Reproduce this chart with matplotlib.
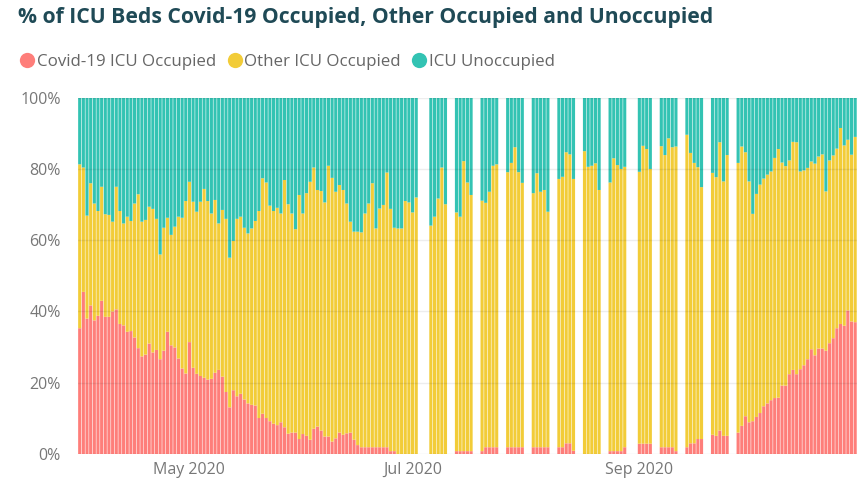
import numpy as np
import pandas as pd
import matplotlib
matplotlib.use("Agg")
import matplotlib.pyplot as plt
import matplotlib.dates as mdates
from matplotlib.ticker import FixedLocator, FuncFormatter
from matplotlib.lines import Line2D

plt.rcParams["font.family"] = ["Open Sans", "DejaVu Sans"]

title = "% of ICU Beds Covid-19 Occupied, Other Occupied and Unoccupied"
series_names = ["Covid-19 ICU Occupied", "Other ICU Occupied", "ICU Unoccupied"]
series_colors = ["#FE7E7A", "#F2CC38", "#33C3B3"]

# Reporting days: daily through early July, weekdays only over the summer,
# then daily again from the end of September
report_spans = [
    ("2020-04-01", "2020-07-02"),
    ("2020-07-06", "2020-07-10"),
    ("2020-07-13", "2020-07-17"),
    ("2020-07-20", "2020-07-24"),
    ("2020-07-27", "2020-07-31"),
    ("2020-08-03", "2020-08-07"),
    ("2020-08-10", "2020-08-14"),
    ("2020-08-17", "2020-08-21"),
    ("2020-08-24", "2020-08-28"),
    ("2020-09-01", "2020-09-04"),
    ("2020-09-07", "2020-09-11"),
    ("2020-09-14", "2020-09-18"),
    ("2020-09-21", "2020-09-25"),
    ("2020-09-28", "2020-10-30"),
]

# Share of ICU beds occupied by Covid-19 patients (%)
covid_pct = [
    # Apr 1 - Jul 2
    35.3, 45.5, 38.0, 41.7, 37.5, 38.8, 43.0, 38.5, 38.5, 40.0,
    40.6, 36.5, 36.1, 34.3, 34.5, 32.7, 29.7, 27.4, 27.9, 31.0,
    28.5, 29.2, 26.6, 29.0, 34.3, 30.5, 29.9, 26.8, 24.0, 22.6,
    31.4, 24.2, 22.5, 21.9, 21.4, 20.9, 21.1, 22.8, 23.6, 21.7,
    17.4, 13.1, 17.9, 16.2, 16.9, 15.3, 14.2, 13.8, 13.6, 10.1,
    11.3, 10.1, 9.2, 8.5, 8.1, 8.9, 7.5, 5.7, 6.0, 6.0,
    4.2, 5.6, 5.1, 4.0, 7.1, 7.7, 6.6, 4.9, 4.9, 3.5,
    4.4, 6.0, 5.4, 5.8, 6.0, 4.0, 2.5, 1.9, 1.9, 1.9,
    1.9, 1.9, 1.9, 1.9, 1.9, 0.8, 0.8, 0.0, 0.0, 0.0,
    0.0, 0.0, 0.0,
    # weekday reports, Jul 6 - Sep 25
    0.0, 0.0, 0.0, 0.0, 0.0,
    0.8, 0.8, 0.8, 0.8, 0.8,
    0.8, 1.9, 1.9, 1.9, 1.9,
    1.9, 1.9, 1.9, 1.9, 1.9,
    1.9, 1.9, 1.9, 1.9, 1.9,
    1.9, 1.9, 3.0, 3.0, 0.9,
    0.0, 0.0, 0.0, 0.0, 0.0,
    0.8, 0.8, 0.8, 0.8, 1.9,
    2.9, 2.9, 2.9, 2.9,
    1.9, 1.9, 1.9, 1.9, 0.8,
    1.9, 3.0, 3.0, 4.2, 4.2,
    5.4, 5.1, 6.6, 5.1, 5.1,
    # Sep 28 - Oct 30
    6.0, 7.9, 10.6, 8.9, 9.2, 10.4, 11.5, 13.4, 14.2, 15.1,
    15.7, 15.8, 19.2, 19.2, 22.4, 23.6, 22.4, 23.8, 24.9, 26.6,
    29.4, 27.7, 29.6, 29.6, 29.0, 31.1, 32.5, 35.3, 36.5, 36.0,
    40.3, 37.2, 37.0,
]

# Share of ICU beds occupied for any reason (%)
occupied_pct = [
    # Apr 1 - Jul 2
    81.3, 80.4, 66.9, 76.0, 70.3, 68.2, 75.0, 67.3, 67.1, 65.2,
    75.0, 68.2, 64.7, 66.6, 65.4, 70.3, 72.9, 65.2, 65.7, 69.4,
    68.8, 66.0, 56.0, 63.5, 66.3, 61.5, 63.8, 66.6, 66.3, 71.0,
    76.4, 70.8, 68.0, 70.8, 74.4, 71.0, 67.5, 71.3, 64.7, 68.5,
    66.0, 55.1, 59.8, 66.0, 66.6, 63.5, 61.9, 63.3, 65.4, 68.2,
    77.4, 76.2, 69.7, 68.2, 69.1, 67.5, 76.9, 70.1, 67.5, 63.1,
    72.7, 67.5, 73.2, 76.4, 80.4, 74.1, 73.8, 70.6, 80.9, 77.5,
    73.6, 75.5, 74.1, 70.3, 65.2, 62.4, 62.4, 62.2, 67.5, 70.3,
    76.0, 63.3, 68.9, 69.9, 79.0, 68.8, 63.5, 63.3, 63.3, 71.0,
    70.6, 67.8, 72.0,
    # weekday reports, Jul 6 - Sep 25
    64.1, 66.6, 71.7, 80.4, 70.1,
    67.8, 66.6, 82.2, 76.2, 72.7,
    71.1, 70.5, 73.6, 80.9, 81.3,
    79.1, 81.7, 86.1, 79.1, 76.1,
    73.2, 78.8, 73.6, 74.1, 68.0,
    77.2, 77.8, 84.7, 84.1, 77.2,
    85.0, 80.6, 80.9, 81.6, 74.1,
    76.2, 83.0, 81.1, 80.0, 80.6,
    79.2, 86.5, 85.6, 80.0,
    86.4, 83.9, 88.6, 86.1, 86.3,
    89.6, 84.5, 81.7, 80.5, 74.9,
    78.9, 77.7, 87.5, 76.5, 83.9,
    # Sep 28 - Oct 30
    81.7, 86.3, 84.7, 76.5, 67.4, 73.0, 75.6, 77.3, 78.4, 79.3,
    83.1, 85.6, 81.8, 80.8, 82.4, 87.6, 87.5, 79.3, 79.6, 80.3,
    82.1, 81.5, 83.5, 84.1, 73.7, 82.4, 83.8, 85.7, 91.5, 86.6,
    88.2, 84.0, 89.0,
]

x_tick_dates = ["2020-05-01", "2020-07-01", "2020-09-01"]
y_ticks = [0, 20, 40, 60, 80, 100]

# ---------------------------------------------------------------- data prep
dates = pd.DatetimeIndex(np.concatenate(
    [pd.date_range(a, b, freq="D").values for a, b in report_spans]))
covid = np.array(covid_pct)
occupied = np.array(occupied_pct)
assert len(dates) == len(covid) == len(occupied)
other = occupied - covid
unoccupied = 100.0 - occupied
xd = mdates.date2num(dates)

# ---------------------------------------------------------------- figure
W, H = 857, 482
fig = plt.figure(figsize=(W / 100, H / 100), dpi=100)
fig.patch.set_facecolor("white")

ax_left, ax_right = 77.5, 857.0
ax_top, ax_bottom = 97.7, 454.0
ax = fig.add_axes([ax_left / W, 1 - ax_bottom / H,
                   (ax_right - ax_left) / W, (ax_bottom - ax_top) / H])

bw = 0.85
bar_kw = dict(width=bw, linewidth=0, snap=False)
ax.bar(xd, covid, color=series_colors[0], **bar_kw)
ax.bar(xd, other, bottom=covid, color=series_colors[1], **bar_kw)
ax.bar(xd, unoccupied, bottom=occupied, color=series_colors[2], **bar_kw)

x0 = mdates.date2num(pd.Timestamp("2020-04-01"))
ax.set_xlim(x0 - 0.6, x0 + 212.5)
ax.set_ylim(0, 100)

for s in ax.spines.values():
    s.set_visible(False)

ax.yaxis.set_major_locator(FixedLocator(y_ticks))
ax.yaxis.set_major_formatter(FuncFormatter(lambda v, p: f"{v:.0f}%"))
ax.xaxis.set_major_locator(FixedLocator(mdates.date2num(pd.to_datetime(x_tick_dates))))
ax.xaxis.set_major_formatter(mdates.DateFormatter("%b %Y"))
ax.tick_params(axis="both", length=0, labelsize=11.5, labelcolor="#777777")
ax.tick_params(axis="y", pad=12)
ax.tick_params(axis="x", pad=6)

ax.set_axisbelow(False)
ax.yaxis.grid(True, color="black", alpha=0.07, linewidth=1)
ax.xaxis.grid(False)

# title
fig.text(18 / W, 1 - 17 / H, title, ha="left", va="center",
         fontsize=15.2, fontweight="bold", color="#1F4A56")

# legend
handles = [Line2D([], [], marker="o", linestyle="none", markersize=11,
                  markerfacecolor=c, markeredgewidth=0) for c in series_colors]
fig.legend(handles, series_names, loc="center left",
           bbox_to_anchor=(13 / W, 1 - 62 / H), ncol=3, frameon=False,
           handlelength=0.7, handletextpad=0.2, columnspacing=0.75,
           borderpad=0, fontsize=12.2, labelcolor="#666666")

fig.savefig("out.png", dpi=100, facecolor="white")
